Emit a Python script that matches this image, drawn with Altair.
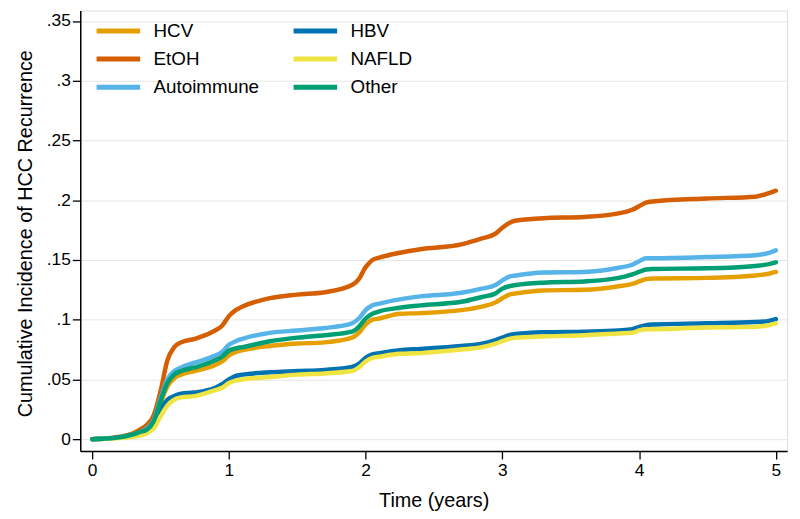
import altair as alt
import pandas as pd

# Time points (years)
T = [0, 0.1, 0.2, 0.3, 0.35, 0.4, 0.45, 0.5, 0.55, 0.6, 0.65, 0.75, 0.9, 0.95,
     1.0, 1.05, 1.1, 1.3, 1.5, 1.7, 1.9, 1.95, 2.0, 2.05, 2.1, 2.25, 2.4, 2.7,
     2.85, 2.95, 3.0, 3.05, 3.1, 3.3, 3.6, 3.85, 3.95, 4.0, 4.05, 4.1, 4.5,
     4.85, 4.95, 5.0]

HCV = [0, 0.0005, 0.0015, 0.0035, 0.005, 0.0075, 0.014, 0.030, 0.044, 0.051,
       0.054, 0.057, 0.062, 0.065, 0.070, 0.073, 0.0745, 0.078, 0.080, 0.081,
       0.085, 0.089, 0.096, 0.100, 0.101, 0.105, 0.1055, 0.108, 0.111, 0.1145,
       0.118, 0.121, 0.122, 0.1245, 0.125, 0.128, 0.130, 0.132, 0.134, 0.1345,
       0.135, 0.137, 0.1385, 0.140]

EtOH = [0, 0.0005, 0.002, 0.005, 0.008, 0.012, 0.020, 0.040, 0.066, 0.077,
        0.081, 0.084, 0.091, 0.095, 0.103, 0.108, 0.111, 0.118, 0.121, 0.123,
        0.129, 0.134, 0.144, 0.150, 0.152, 0.156, 0.159, 0.163, 0.168, 0.172,
        0.177, 0.181, 0.183, 0.185, 0.186, 0.189, 0.192, 0.195, 0.198, 0.199,
        0.2015, 0.203, 0.206, 0.208]

Autoimmune = [0, 0.0005, 0.0015, 0.004, 0.006, 0.009, 0.016, 0.034, 0.050,
              0.057, 0.060, 0.064, 0.070, 0.073, 0.079, 0.082, 0.084, 0.089,
              0.091, 0.093, 0.097, 0.101, 0.108, 0.112, 0.1135, 0.117, 0.1195,
              0.1225, 0.126, 0.129, 0.133, 0.136, 0.137, 0.1395, 0.140, 0.1435,
              0.146, 0.149, 0.1515, 0.1515, 0.1525, 0.154, 0.156, 0.158]

HBV = [0, 0.0005, 0.0015, 0.003, 0.005, 0.007, 0.012, 0.025, 0.033, 0.036,
       0.038, 0.039, 0.043, 0.046, 0.050, 0.053, 0.054, 0.056, 0.057, 0.058,
       0.0605, 0.063, 0.068, 0.071, 0.072, 0.0745, 0.0755, 0.078, 0.080, 0.083,
       0.085, 0.087, 0.088, 0.0895, 0.090, 0.091, 0.092, 0.094, 0.0955, 0.096,
       0.097, 0.098, 0.099, 0.1005]

NAFLD = [0, 0.0003, 0.001, 0.002, 0.003, 0.005, 0.009, 0.019, 0.028, 0.033,
         0.035, 0.036, 0.041, 0.043, 0.047, 0.049, 0.050, 0.052, 0.054, 0.055,
         0.057, 0.060, 0.065, 0.068, 0.069, 0.0715, 0.072, 0.075, 0.077, 0.080,
         0.082, 0.084, 0.085, 0.086, 0.087, 0.0885, 0.089, 0.091, 0.092, 0.092,
         0.0935, 0.094, 0.0955, 0.097]

Other = [0, 0.0005, 0.0015, 0.004, 0.006, 0.008, 0.015, 0.032, 0.047, 0.054,
         0.057, 0.060, 0.066, 0.069, 0.074, 0.076, 0.077, 0.082, 0.085, 0.087,
         0.090, 0.094, 0.101, 0.105, 0.107, 0.110, 0.112, 0.115, 0.119, 0.122,
         0.126, 0.128, 0.129, 0.131, 0.132, 0.135, 0.138, 0.140, 0.142, 0.1425,
         0.143, 0.145, 0.1465, 0.148]

# drawing order (first drawn at bottom) == legend order (column-major)
series = [("HCV", HCV), ("EtOH", EtOH), ("Autoimmune", Autoimmune),
          ("HBV", HBV), ("NAFLD", NAFLD), ("Other", Other)]
names = [s[0] for s in series]
colors = {"HCV": "#E69F00", "EtOH": "#D55E00", "Autoimmune": "#56B4E9",
          "HBV": "#0072B2", "NAFLD": "#F0E442", "Other": "#009E73"}

rows = []
for name, vals in series:
    for t, v in zip(T, vals):
        rows.append({"time": t, "ci": v, "group": name})
df = pd.DataFrame(rows)

FONT = "Liberation Sans"
y_ticks = [0, 0.05, 0.1, 0.15, 0.2, 0.25, 0.3, 0.35]

base = alt.Chart(df).mark_line(
    strokeWidth=4.5, strokeCap="round", strokeJoin="round", interpolate="monotone"
).encode(
    x=alt.X("time:Q",
            scale=alt.Scale(domain=[-0.087, 5.082], nice=False, zero=False),
            axis=alt.Axis(values=[0, 1, 2, 3, 4, 5], format="d", grid=False,
                          title="Time (years)", titleFontSize=20,
                          titleFontWeight="normal", titleFont=FONT,
                          titleBaseline="middle", titleY=50,
                          labelFontSize=17.5, labelFont=FONT, labelColor="black",
                          labelPadding=3, tickSize=8, tickColor="black",
                          domainColor="black", domainWidth=1.5, tickWidth=1.3)),
    y=alt.Y("ci:Q",
            scale=alt.Scale(domain=[-0.00995, 0.3588], nice=False, zero=False),
            axis=alt.Axis(values=y_ticks,
                          labelExpr="datum.value == 0 ? '0' : substring(format(datum.value, '.2~f'), 1)",
                          grid=True, gridColor="#e6e6e6", gridWidth=1,
                          title="Cumulative Incidence of HCC Recurrence",
                          titleFontSize=20, titleFontWeight="normal",
                          titleFont=FONT, titleBaseline="middle",
                          titleX=-55, titleY=225,
                          labelFontSize=17.5, labelFont=FONT, labelColor="black",
                          labelPadding=2, tickSize=8, tickColor="black",
                          domainColor="black", domainWidth=1.5, tickWidth=1.3)),
    color=alt.Color("group:N",
                    scale=alt.Scale(domain=names,
                                    range=[colors[g] for g in names]),
                    legend=alt.Legend(title=None, orient="none", legendX=29,
                                      legendY=11, columns=2,
                                      symbolType="M-4.4,0H4.4", symbolSize=100,
                                      symbolStrokeWidth=5, labelFontSize=19,
                                      labelFont=FONT, labelColor="black",
                                      labelOffset=26, columnPadding=24,
                                      rowPadding=7.5, labelLimit=0)),
)

layers = [base.transform_filter(alt.datum.group == n) for n in names]

chart = alt.layer(*layers).properties(
    width=714, height=445,
    autosize=alt.AutoSizeParams(type="none"),
    padding={"left": 73, "top": 0, "right": 5, "bottom": 58},
).configure_view(stroke=None).configure(background="white")

chart.save("out.html", embed_options={"renderer": "svg", "actions": False})
